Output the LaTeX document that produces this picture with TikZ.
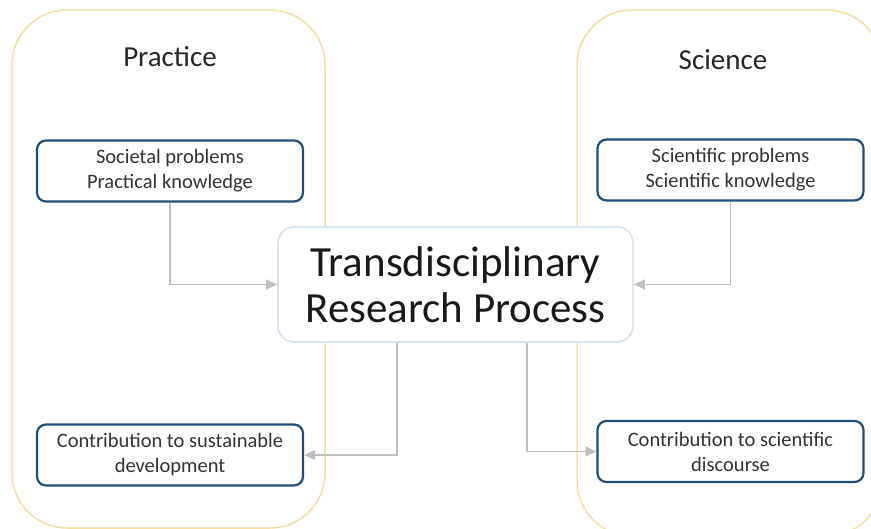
\documentclass[tikz,border=0pt]{standalone}
\usepackage{fontspec}
\setmainfont{Carlito}
\usetikzlibrary{arrows.meta}
\definecolor{frameyellow}{HTML}{F3DFA2}
\definecolor{boxblue}{HTML}{1F4E79}
\definecolor{coreblue}{HTML}{D5E5F3}
\definecolor{flowgray}{HTML}{BFBFBF}
\tikzset{
	field/.style={draw=frameyellow, line width=1.5pt, rounded corners=55pt},
	fieldtitle/.style={font=\fontsize{29}{34}\selectfont, text=black!85},
	item/.style={draw=boxblue, line width=2.2pt, rounded corners=9pt, fill=white,
		minimum width=266pt, minimum height=61pt, align=center,
		font=\fontsize{20.5}{25}\selectfont, text=black!80},
	core/.style={draw=coreblue, line width=1.8pt, rounded corners=16pt, fill=white,
		minimum width=355pt, minimum height=115pt, align=center,
		font=\fontsize{43}{46}\selectfont, text=black!90},
	flow/.style={draw=flowgray, line width=1.7pt, -{Triangle[length=11pt,width=10pt]}}
}
\begin{document}
\begin{tikzpicture}[x=1pt,y=-1pt]
	\useasboundingbox (0,0) rectangle (871,528);
	% practice and science fields
	\draw[field] (12,10) rectangle (325,528);
	\draw[field] (577,10) rectangle (882,536);
	\node[fieldtitle] (practice) at (170,57) {Practice};
	\node[fieldtitle] (science) at (723,60) {Science};
	%
	\node[item] (soc) at (170,171) {Societal problems\\Practical knowledge};
	\node[item] (sus) at (170,455) {Contribution to sustainable\\development};
	\node[item] (sci) at (730.5,170) {Scientific problems\\Scientific knowledge};
	\node[item] (dis) at (730.5,451.5) {Contribution to scientific\\discourse};
	%
	\node[core] (trp) at (455.5,284.5) {Transdisciplinary\\Research Process};
	%
	\draw[flow] (soc.south) |- (trp.west);
	\draw[flow] (sci.south) |- (trp.east);
	\draw[flow] ([xshift=-58.5pt]trp.south) |- (sus.east);
	\draw[flow] ([xshift=71.5pt]trp.south) |- (dis.west);
\end{tikzpicture}
\end{document}
